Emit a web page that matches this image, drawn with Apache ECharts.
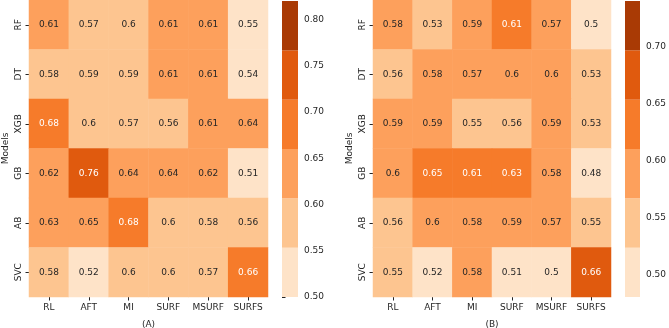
<!DOCTYPE html>
<html>
<head>
<meta charset="utf-8">
<script src="https://cdn.jsdelivr.net/npm/echarts@6/dist/echarts.min.js"></script>
<style>
html, body { margin: 0; padding: 0; background: #fff; }
#chart { width: 669px; height: 328px; }
</style>
</head>
<body>
<div id="chart"></div>
<script>
// categories
const models = ['RF', 'DT', 'XGB', 'GB', 'AB', 'SVC']
const methods = ['RL', 'AFT', 'MI', 'SURF', 'MSURF', 'SURFS']

// panel (A) values, rows follow models
const valuesA = [
    [0.61, 0.57, 0.6, 0.61, 0.61, 0.55],
    [0.58, 0.59, 0.59, 0.61, 0.61, 0.54],
    [0.68, 0.6, 0.57, 0.56, 0.61, 0.64],
    [0.62, 0.76, 0.64, 0.64, 0.62, 0.51],
    [0.63, 0.65, 0.68, 0.6, 0.58, 0.56],
    [0.58, 0.52, 0.6, 0.6, 0.57, 0.66]
]
// panel (B) values
const valuesB = [
    [0.58, 0.53, 0.59, 0.61, 0.57, 0.5],
    [0.56, 0.58, 0.57, 0.6, 0.6, 0.53],
    [0.59, 0.59, 0.55, 0.56, 0.59, 0.53],
    [0.6, 0.65, 0.61, 0.63, 0.58, 0.48],
    [0.56, 0.6, 0.58, 0.59, 0.57, 0.55],
    [0.55, 0.52, 0.58, 0.51, 0.5, 0.66]
]

// colour bin edges of each colorbar
const edgesA = [0.5, 0.5533, 0.6067, 0.66, 0.7133, 0.7667, 0.82]
const edgesB = [0.48, 0.5233, 0.5667, 0.61, 0.6533, 0.6967, 0.74]
// colorbar tick labels
const ticksA = [0.5, 0.55, 0.6, 0.65, 0.7, 0.75, 0.8]
const ticksB = [0.5, 0.55, 0.6, 0.65, 0.7]

const palette = ['#fee3c8', '#fdc590', '#fda05c', '#f67b2a', '#e05a0e', '#a93a05']
const FONT = 'DejaVu Sans'
const TXT = '#262626'

const binOf = (v, edges) => {
    for (let i = edges.length - 2; i >= 0; i--) {
        if (v >= edges[i]) return i
    }
    return 0
}

const cells = (vals, edges) => {
    const out = []
    vals.forEach((row, r) => {
        row.forEach((v, c) => {
            out.push({
                value: [c, r, v],
                label: { color: binOf(v, edges) >= 3 ? '#ffffff' : TXT }
            })
        })
    })
    return out
}

const pieces = (edges) => edges.slice(0, -1).map((lo, i) => ({ gte: lo, lt: edges[i + 1], color: palette[i] }))

const barData = (edges) => edges.slice(0, -1).map((lo, i) => [lo, edges[i + 1], i])

const myChart = echarts.init(document.getElementById('chart'))

const catX = (gi, name) => ({
    type: 'category',
    gridIndex: gi,
    data: methods,
    name: name,
    nameLocation: 'middle',
    nameGap: 23,
    nameTextStyle: { fontFamily: FONT, fontSize: 9, color: TXT },
    axisLine: { show: false },
    axisTick: { show: true, alignWithLabel: true, length: 3.5, lineStyle: { color: TXT } },
    axisLabel: { fontFamily: FONT, fontSize: 9, color: TXT, margin: 6, interval: 0 },
    splitLine: { show: false }
})

const catY = (gi) => ({
    type: 'category',
    gridIndex: gi,
    data: models,
    inverse: true,
    name: 'Models',
    nameLocation: 'middle',
    nameRotate: 90,
    nameGap: 19,
    nameTextStyle: { fontFamily: FONT, fontSize: 9, color: TXT },
    axisLine: { show: false },
    axisTick: { show: true, alignWithLabel: true, length: 3.5, lineStyle: { color: TXT } },
    axisLabel: { fontFamily: FONT, fontSize: 9, color: TXT, rotate: 90, margin: 6, interval: 0 },
    splitLine: { show: false }
})

const barX = (gi) => ({ type: 'value', gridIndex: gi, min: 0, max: 1, show: false })

const barY = (gi, edges, ticks) => ({
    type: 'value',
    gridIndex: gi,
    position: 'right',
    min: edges[0],
    max: edges[edges.length - 1],
    axisLine: { show: false },
    splitLine: { show: false },
    axisTick: { show: true, length: 3.5, lineStyle: { color: TXT }, customValues: ticks },
    axisLabel: {
        fontFamily: FONT, fontSize: 9, color: TXT, margin: 6,
        customValues: ticks,
        formatter: (v) => v.toFixed(2)
    }
})

const renderBin = (params, api) => {
    const top = api.coord([0, api.value(1)])
    const bot = api.coord([1, api.value(0)])
    return {
        type: 'rect',
        shape: { x: top[0], y: top[1], width: bot[0] - top[0], height: bot[1] - top[1] },
        style: { fill: palette[api.value(2)] }
    }
}

const heat = (xi, vals, edges) => ({
    type: 'heatmap',
    xAxisIndex: xi,
    yAxisIndex: xi,
    data: cells(vals, edges),
    label: {
        show: true,
        fontFamily: FONT,
        fontSize: 9,
        formatter: (p) => String(p.value[2])
    },
    emphasis: { disabled: true }
})

const gridBox = (left, top, width, height) => ({ left, top, width, height, outerBoundsMode: 'none', containLabel: false })

const option = {
    animation: false,
    backgroundColor: '#ffffff',
    grid: [
        gridBox(29, 0, 239, 297),
        gridBox(373, 0, 238, 297),
        gridBox(282, 1, 16, 296),
        gridBox(625, 1, 15, 296)
    ],
    xAxis: [catX(0, '(A)'), catX(1, '(B)'), barX(2), barX(3)],
    yAxis: [catY(0), catY(1), barY(2, edgesA, ticksA), barY(3, edgesB, ticksB)],
    visualMap: [
        { type: 'piecewise', show: false, seriesIndex: 0, dimension: 2, pieces: pieces(edgesA) },
        { type: 'piecewise', show: false, seriesIndex: 1, dimension: 2, pieces: pieces(edgesB) }
    ],
    series: [
        heat(0, valuesA, edgesA),
        heat(1, valuesB, edgesB),
        { type: 'custom', xAxisIndex: 2, yAxisIndex: 2, renderItem: renderBin, data: barData(edgesA), silent: true },
        { type: 'custom', xAxisIndex: 3, yAxisIndex: 3, renderItem: renderBin, data: barData(edgesB), silent: true }
    ]
}
myChart.setOption(option)
</script>
</body>
</html>
